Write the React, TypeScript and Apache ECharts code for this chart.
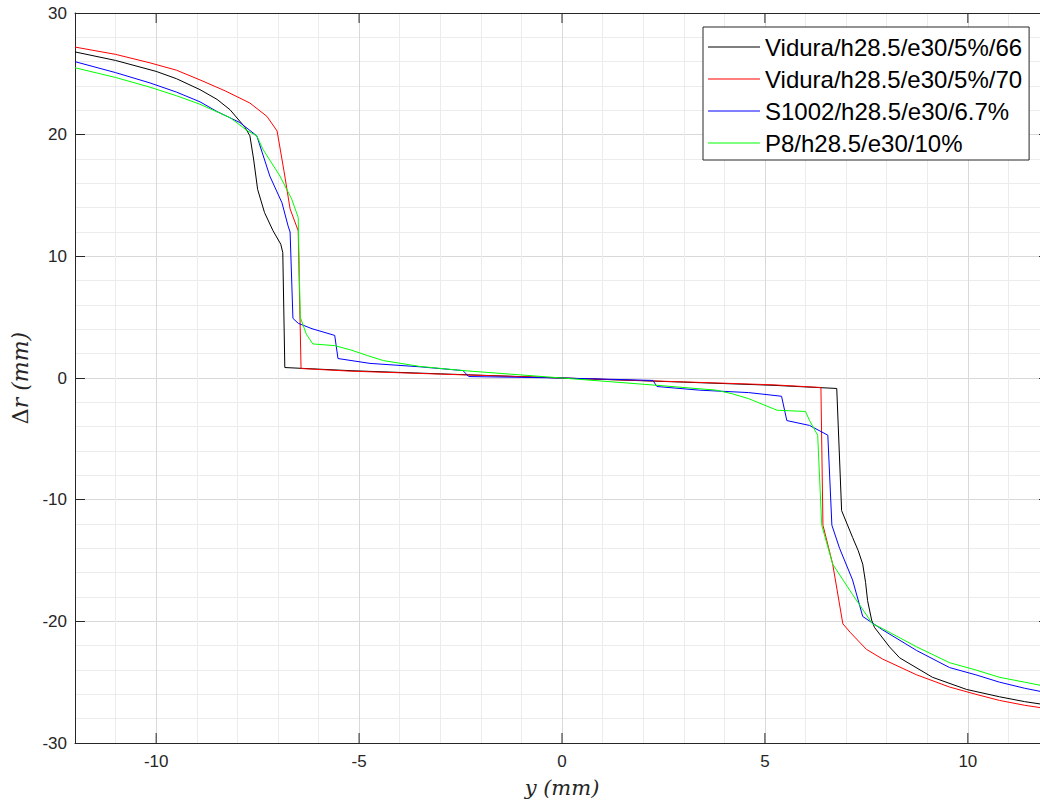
import React, { useEffect, useRef } from 'react';
import * as echarts from 'echarts';

const seriesNames = [
  'Vidura/h28.5/e30/5%/66',
  'Vidura/h28.5/e30/5%/70',
  'S1002/h28.5/e30/6.7%',
  'P8/h28.5/e30/10%',
];
const seriesColors = ['#000000', '#ff0000', '#0000ff', '#00ff00'];

const xTickValues = [-10, -5, 0, 5, 10];

const black: number[][] = [
  [-12, 26.8], [-11, 26.1], [-10, 25.2], [-9.5, 24.6], [-8.92, 23.7], [-8.5, 22.9], [-8.18, 22.05],
  [-7.81, 20.6], [-7.69, 19.9], [-7.6, 18.0], [-7.5, 15.5], [-7.33, 13.6],
  [-7.12, 12.1], [-6.93, 11.0], [-6.88, 10.3], [-6.83, 0.86], [-5.2, 0.6], [-3, 0.34], [0, 0],
  [3, -0.34], [5.2, -0.6], [6.77, -0.86], [6.89, -10.9], [7.16, -13.1], [7.3, -14.2], [7.41, -15.3],
  [7.48, -16.8], [7.53, -18.3], [7.63, -19.9], [7.7, -20.5], [8.07, -22.1], [8.32, -23.0],
  [9.13, -24.6], [9.97, -25.6], [10.78, -26.2], [11.4, -26.6], [12, -26.9],
];

const red: number[][] = [
  [-12, 27.2], [-11, 26.6], [-10.15, 25.9], [-9.5, 25.3], [-8.92, 24.5], [-8.3, 23.6], [-7.69, 22.6],
  [-7.27, 21.5], [-7.02, 20.3], [-6.85, 17.0], [-6.7, 13.9],
  [-6.5, 12.1], [-6.43, 0.78], [-5.2, 0.56], [-3, 0.32], [0, 0], [3, -0.32], [5.2, -0.56],
  [6.38, -0.78], [6.43, -12.1], [6.67, -15.3], [6.92, -20.2], [7.1, -20.9], [7.5, -22.3],
  [7.9, -23.1], [8.74, -24.4], [9.55, -25.4], [10.2, -26.0], [10.78, -26.5], [11.4, -26.9], [12, -27.2],
];

const blue: number[][] = [
  [-12, 26.0], [-11, 25.1], [-10.15, 24.25], [-9.5, 23.5], [-8.92, 22.7], [-8.5, 21.9], [-7.94, 21.0],
  [-7.52, 19.9], [-7.2, 16.6], [-6.9, 14.4], [-6.75, 12.5],
  [-6.7, 12.0], [-6.63, 4.9], [-6.5, 4.5], [-6.16, 4.05], [-5.6, 3.5], [-5.52, 1.6], [-4.73, 1.2],
  [-3.5, 0.92], [-2.44, 0.61], [-2.3, 0.12], [0, 0], [2.24, -0.2], [2.34, -0.7], [3.39, -1.0],
  [4.6, -1.2], [5.41, -1.5], [5.54, -3.5], [6.1, -3.9], [6.55, -4.7], [6.65, -12.1], [6.84, -14.0],
  [7.16, -16.6], [7.41, -19.6], [7.9, -20.7], [8.74, -22.4], [9.55, -23.8],
  [10.2, -24.4], [10.78, -25.0], [11.4, -25.5], [12, -25.9],
];

const green: number[][] = [
  [-12, 25.5], [-11, 24.7], [-10.15, 23.9], [-9.5, 23.2], [-8.92, 22.5], [-8.18, 21.4],
  [-7.74, 20.3], [-7.52, 19.9], [-7.37, 18.8], [-6.95, 16.6], [-6.66, 14.7],
  [-6.5, 13.2], [-6.45, 5.0], [-6.3, 3.6], [-6.14, 2.8], [-5.6, 2.66], [-5.2, 2.3], [-4.8, 1.85],
  [-4.4, 1.43], [-3.5, 0.95], [-2.44, 0.61], [0, 0], [2.34, -0.6], [3.8, -1.0], [4.2, -1.3],
  [4.6, -1.7], [5.3, -2.65], [6.0, -2.75], [6.1, -3.5], [6.3, -4.7], [6.4, -12.1], [6.67, -15.3],
  [7.16, -17.8], [7.65, -20.2], [7.9, -20.6], [8.74, -22.1], [9.55, -23.4], [10.2, -24.0],
  [10.78, -24.6], [11.4, -25.0], [12, -25.4],
];

const seriesData = [black, red, blue, green];

export default function App() {
  const ref = useRef<HTMLDivElement>(null);
  useEffect(() => {
    const chart = echarts.init(ref.current as HTMLDivElement, null, { renderer: 'svg' });
    const axisColor = '#262626';
    const majorGrid = '#d9d9d9';
    const minorGrid = '#ececec';
    const sans = '"Liberation Sans", Arial, Helvetica, sans-serif';
    const serif = '"DejaVu Serif", "Liberation Serif", serif';

    const lineSeries = seriesNames.map((name, i) => ({
      name,
      type: 'line',
      data: seriesData[i],
      showSymbol: false,
      symbol: 'none',
      lineStyle: { color: seriesColors[i], width: 1 },
      itemStyle: { color: seriesColors[i] },
      emphasis: { disabled: true },
      silent: true,
      z: 3 + i,
    }));

    const option: any = {
      animation: false,
      backgroundColor: '#ffffff',
      grid: { left: 75, top: 13, right: 11, bottom: 57, containLabel: false },
      legend: {
        orient: 'vertical',
        left: 703,
        top: 27,
        data: seriesNames,
        icon: 'rect',
        backgroundColor: '#ffffff',
        borderColor: axisColor,
        borderWidth: 1,
        borderRadius: 0,
        padding: [6, 7, 3, 5],
        itemWidth: 52,
        itemHeight: 1,
        itemGap: 4,
        selectedMode: false,
        textStyle: { fontSize: 24, fontFamily: sans, color: '#000000', lineHeight: 28 },
        z: 10,
      },
      xAxis: [
        {
          type: 'value',
          min: -12,
          max: 12,
          interval: 1,
          position: 'bottom',
          axisLine: { show: true, onZero: false, lineStyle: { color: axisColor, width: 1 } },
          axisTick: { show: false },
          axisLabel: {
            formatter: (v: number) => (v % 5 === 0 ? String(v) : ''),
            color: axisColor,
            fontSize: 17,
            fontFamily: sans,
            margin: 10,
          },
          splitLine: {
            show: true,
            lineStyle: { color: [minorGrid, minorGrid, majorGrid, minorGrid, minorGrid], width: 1 },
          },
          name: 'y (mm)',
          nameLocation: 'middle',
          nameGap: 34,
          nameTextStyle: { fontSize: 21, fontFamily: serif, fontStyle: 'italic', color: axisColor },
        },
        {
          type: 'value',
          min: -12,
          max: 12,
          interval: 1,
          position: 'top',
          axisLine: { show: true, onZero: false, lineStyle: { color: axisColor, width: 1 } },
          axisTick: { show: false },
          axisLabel: { show: false },
          splitLine: { show: false },
        },
      ],
      yAxis: [
        {
          type: 'value',
          min: -30,
          max: 30,
          interval: 10,
          position: 'left',
          axisLine: { show: true, onZero: false, lineStyle: { color: axisColor, width: 1 } },
          axisTick: { show: true, inside: true, length: 10, lineStyle: { color: axisColor, width: 1 } },
          axisLabel: { color: axisColor, fontSize: 17, fontFamily: sans, margin: 8 },
          splitLine: { show: true, lineStyle: { color: majorGrid, width: 1 } },
          minorTick: { show: false, splitNumber: 5 },
          minorSplitLine: { show: true, lineStyle: { color: minorGrid, width: 1 } },
          name: '{d|Δ}{r|r (mm)}',
          nameLocation: 'middle',
          nameGap: 38,
          nameTextStyle: {
            color: axisColor,
            rich: {
              d: { fontSize: 22, fontFamily: serif, fontStyle: 'normal', color: axisColor },
              r: { fontSize: 22, fontFamily: serif, fontStyle: 'italic', color: axisColor },
            },
          },
        },
        {
          type: 'value',
          min: -30,
          max: 30,
          interval: 10,
          position: 'right',
          axisLine: { show: true, onZero: false, lineStyle: { color: axisColor, width: 1 } },
          axisTick: { show: true, inside: true, length: 10, lineStyle: { color: axisColor, width: 1 } },
          axisLabel: { show: false },
          splitLine: { show: false },
        },
      ],
      series: [
        ...lineSeries,
        {
          type: 'custom',
          name: 'xticks',
          xAxisIndex: 0,
          yAxisIndex: 0,
          silent: true,
          clip: false,
          z: 8,
          data: xTickValues.map((v) => [v, 0]),
          renderItem: (params: any, api: any) => {
            const cs = params.coordSys;
            const x = api.coord([api.value(0), 0])[0];
            const bottom = cs.y + cs.height;
            const top = cs.y;
            return {
              type: 'group',
              children: [
                { type: 'line', shape: { x1: x, y1: bottom, x2: x, y2: bottom - 10 }, style: { stroke: axisColor, lineWidth: 1 } },
                { type: 'line', shape: { x1: x, y1: top, x2: x, y2: top + 10 }, style: { stroke: axisColor, lineWidth: 1 } },
              ],
            };
          },
        },
      ],
    };
    chart.setOption(option);
    return () => {
      chart.dispose();
    };
  }, []);

  return (
    <div
      style={{ position: 'fixed', left: 0, top: 0, width: 1040, height: 803, overflow: 'hidden', background: '#fff' }}
    >
      <div ref={ref} style={{ width: 1060, height: 803 }} />
    </div>
  );
}
